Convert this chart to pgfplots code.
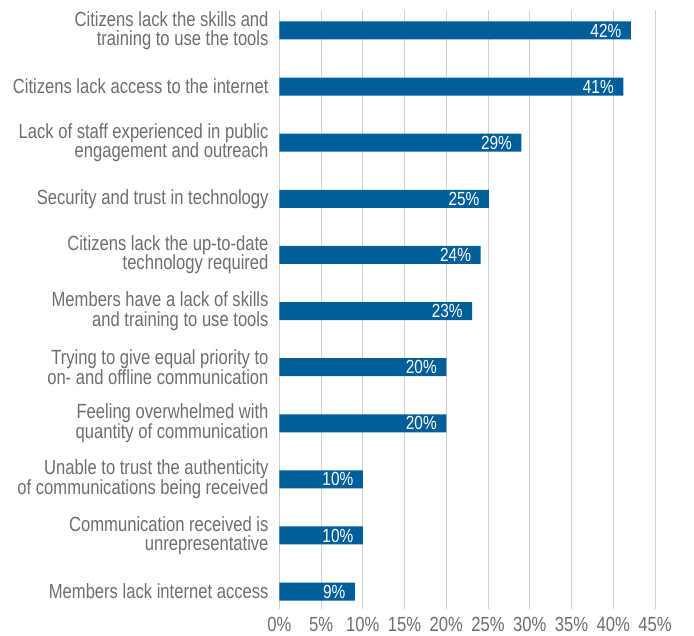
\documentclass[border=0pt]{standalone}
\usepackage{pgfplots}
\pgfplotsset{compat=1.18}
\usepackage{fontspec}
\setmainfont{Liberation Sans}[FakeStretch=0.81]
\definecolor{barblue}{HTML}{005E9A}
\definecolor{gridgray}{HTML}{D0D0D0}
\definecolor{txtgray}{HTML}{6E6E6E}
\begin{document}
\begin{tikzpicture}
\path[use as bounding box] (-279.3pt,-27pt) rectangle (414.7pt,609pt);
\begin{axis}[
  at={(0,0)}, anchor=south west,
  scale only axis,
  width=375.7pt, height=599pt,
  xbar, bar width=18pt,
  xmin=0, xmax=45,
  ymin=-0.365, ymax=10.31,
  y dir=reverse,
  axis line style={draw=none},
  xtick={0,5,...,45},
  ytick={0,...,10},
  xmajorgrids=true,
  major grid style={gridgray, line width=0.9pt},
  tick style={draw=none},
  /pgf/number format/assume math mode=true,
  xticklabel={\pgfmathprintnumber{\tick}\%},
  xticklabel style={text=txtgray, font=\fontsize{20.5}{20}\selectfont, anchor=north, yshift=-5pt},
  yticklabels={{Citizens lack the skills and\\training to use the tools},
    {Citizens lack access to the internet},
    {Lack of staff experienced in public\\engagement and outreach},
    {Security and trust in technology},
    {Citizens lack the up-to-date\\technology required},
    {Members have a lack of skills\\and training to use tools},
    {Trying to give equal priority to\\on- and offline communication},
    {Feeling overwhelmed with\\quantity of communication},
    {Unable to trust the authenticity\\of communications being received},
    {Communication received is\\unrepresentative},
    {Members lack internet access}},
  yticklabel style={text=txtgray, align=right, anchor=east, xshift=-3pt,
    font=\fontsize{20.5}{19.5}\selectfont},
  point meta=x,
  nodes near coords={\pgfmathprintnumber[fixed,precision=0]{\pgfplotspointmeta}\%},
  nodes near coords style={anchor=east, xshift=-6pt, text=white,
    font=\fontsize{19}{19}\selectfont},
]
\addplot[fill=barblue, draw=none] coordinates {
(42.1,0) (41.2,1) (29.0,2) (25.1,3) (24.1,4) (23.1,5) (20.0,6) (20.0,7) (10.0,8) (10.0,9) (9.05,10)
};
\end{axis}
\end{tikzpicture}
\end{document}
